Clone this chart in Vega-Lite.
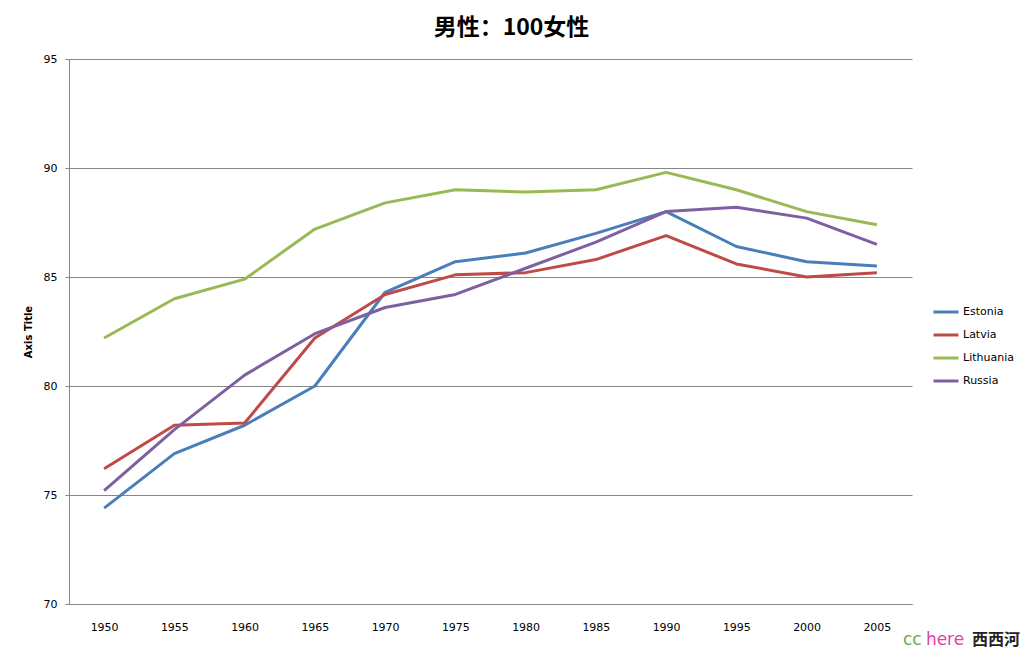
{
  "$schema": "https://vega.github.io/schema/vega-lite/v6.json",
  "width": 843,
  "height": 545,
  "autosize": {"type": "none"},
  "padding": {"left": 69, "top": 59, "right": 114, "bottom": 46},
  "background": "white",
  "title": {
    "text": "男性：100女性",
    "font": "Noto Sans CJK SC",
    "fontSize": 23,
    "fontWeight": "bold",
    "color": "#000000",
    "anchor": "middle",
    "frame": "group",
    "dx": 21,
    "offset": 13
  },
  "data": {
    "values": [
      {"year": "1950", "country": "Estonia", "value": 74.4},
      {"year": "1955", "country": "Estonia", "value": 76.9},
      {"year": "1960", "country": "Estonia", "value": 78.2},
      {"year": "1965", "country": "Estonia", "value": 80.0},
      {"year": "1970", "country": "Estonia", "value": 84.3},
      {"year": "1975", "country": "Estonia", "value": 85.7},
      {"year": "1980", "country": "Estonia", "value": 86.1},
      {"year": "1985", "country": "Estonia", "value": 87.0},
      {"year": "1990", "country": "Estonia", "value": 88.0},
      {"year": "1995", "country": "Estonia", "value": 86.4},
      {"year": "2000", "country": "Estonia", "value": 85.7},
      {"year": "2005", "country": "Estonia", "value": 85.5},
      {"year": "1950", "country": "Latvia", "value": 76.2},
      {"year": "1955", "country": "Latvia", "value": 78.2},
      {"year": "1960", "country": "Latvia", "value": 78.3},
      {"year": "1965", "country": "Latvia", "value": 82.2},
      {"year": "1970", "country": "Latvia", "value": 84.2},
      {"year": "1975", "country": "Latvia", "value": 85.1},
      {"year": "1980", "country": "Latvia", "value": 85.2},
      {"year": "1985", "country": "Latvia", "value": 85.8},
      {"year": "1990", "country": "Latvia", "value": 86.9},
      {"year": "1995", "country": "Latvia", "value": 85.6},
      {"year": "2000", "country": "Latvia", "value": 85.0},
      {"year": "2005", "country": "Latvia", "value": 85.2},
      {"year": "1950", "country": "Lithuania", "value": 82.2},
      {"year": "1955", "country": "Lithuania", "value": 84.0},
      {"year": "1960", "country": "Lithuania", "value": 84.9},
      {"year": "1965", "country": "Lithuania", "value": 87.2},
      {"year": "1970", "country": "Lithuania", "value": 88.4},
      {"year": "1975", "country": "Lithuania", "value": 89.0},
      {"year": "1980", "country": "Lithuania", "value": 88.9},
      {"year": "1985", "country": "Lithuania", "value": 89.0},
      {"year": "1990", "country": "Lithuania", "value": 89.8},
      {"year": "1995", "country": "Lithuania", "value": 89.0},
      {"year": "2000", "country": "Lithuania", "value": 88.0},
      {"year": "2005", "country": "Lithuania", "value": 87.4},
      {"year": "1950", "country": "Russia", "value": 75.2},
      {"year": "1955", "country": "Russia", "value": 78.0},
      {"year": "1960", "country": "Russia", "value": 80.5},
      {"year": "1965", "country": "Russia", "value": 82.4},
      {"year": "1970", "country": "Russia", "value": 83.6},
      {"year": "1975", "country": "Russia", "value": 84.2},
      {"year": "1980", "country": "Russia", "value": 85.4},
      {"year": "1985", "country": "Russia", "value": 86.6},
      {"year": "1990", "country": "Russia", "value": 88.0},
      {"year": "1995", "country": "Russia", "value": 88.2},
      {"year": "2000", "country": "Russia", "value": 87.7},
      {"year": "2005", "country": "Russia", "value": 86.5}
    ]
  },
  "layer": [
    {
      "mark": {"type": "line", "strokeWidth": 3, "strokeJoin": "round"},
      "encoding": {
        "x": {
          "field": "year",
          "type": "ordinal",
          "scale": {"type": "point", "padding": 0.5},
          "axis": {
            "title": null,
            "labelAngle": 0,
            "ticks": false,
            "grid": false,
            "domainColor": "#868686",
            "labelPadding": 17,
            "labelFont": "DejaVu Sans",
            "labelFontSize": 11,
            "labelColor": "#000000"
          }
        },
        "y": {
          "field": "value",
          "type": "quantitative",
          "scale": {"domain": [70, 95], "nice": false, "zero": false},
          "axis": {
            "title": "Axis Title",
            "titleFont": "DejaVu Sans",
            "titleFontSize": 10,
            "titleFontWeight": "bold",
            "titleColor": "#000000",
            "titlePadding": 10,
            "values": [70, 75, 80, 85, 90, 95],
            "grid": true,
            "gridColor": "#868686",
            "gridOpacity": 1,
            "domainColor": "#868686",
            "tickColor": "#868686",
            "tickSize": 4,
            "labelPadding": 8,
            "labelFont": "DejaVu Sans",
            "labelFontSize": 11,
            "labelColor": "#000000"
          }
        },
        "color": {
          "field": "country",
          "type": "nominal",
          "scale": {
            "domain": ["Estonia", "Latvia", "Lithuania", "Russia"],
            "range": ["#4A7EBB", "#BE4B48", "#98B954", "#7D60A0"]
          },
          "legend": {
            "title": null,
            "orient": "none",
            "legendX": 863,
            "legendY": 239,
            "symbolType": "stroke",
            "symbolSize": 625,
            "symbolStrokeWidth": 3,
            "labelFont": "DejaVu Sans",
            "labelFontSize": 11,
            "labelColor": "#000000",
            "labelOffset": 3,
            "rowPadding": 3
          }
        }
      }
    },
    {
      "data": {"values": [{"year": "2005", "value": 70, "t": "cc"}]},
      "mark": {"type": "text", "align": "left", "baseline": "alphabetic", "dx": 26, "dy": 41, "font": "DejaVu Sans", "fontSize": 17, "color": "#6aa84f"},
      "encoding": {
        "x": {"field": "year", "type": "ordinal"},
        "y": {"field": "value", "type": "quantitative"},
        "text": {"field": "t"}
      }
    },
    {
      "data": {"values": [{"year": "2005", "value": 70, "t": "here"}]},
      "mark": {"type": "text", "align": "left", "baseline": "alphabetic", "dx": 49, "dy": 41, "font": "DejaVu Sans", "fontSize": 17, "color": "#e0459a"},
      "encoding": {
        "x": {"field": "year", "type": "ordinal"},
        "y": {"field": "value", "type": "quantitative"},
        "text": {"field": "t"}
      }
    },
    {
      "data": {"values": [{"year": "2005", "value": 70, "t": "西西河"}]},
      "mark": {"type": "text", "align": "left", "baseline": "alphabetic", "dx": 95, "dy": 41, "font": "Noto Sans CJK SC", "fontSize": 16, "fontWeight": "bold", "color": "#222222"},
      "encoding": {
        "x": {"field": "year", "type": "ordinal"},
        "y": {"field": "value", "type": "quantitative"},
        "text": {"field": "t"}
      }
    }
  ],
  "config": {
    "view": {"stroke": null}
  }
}
